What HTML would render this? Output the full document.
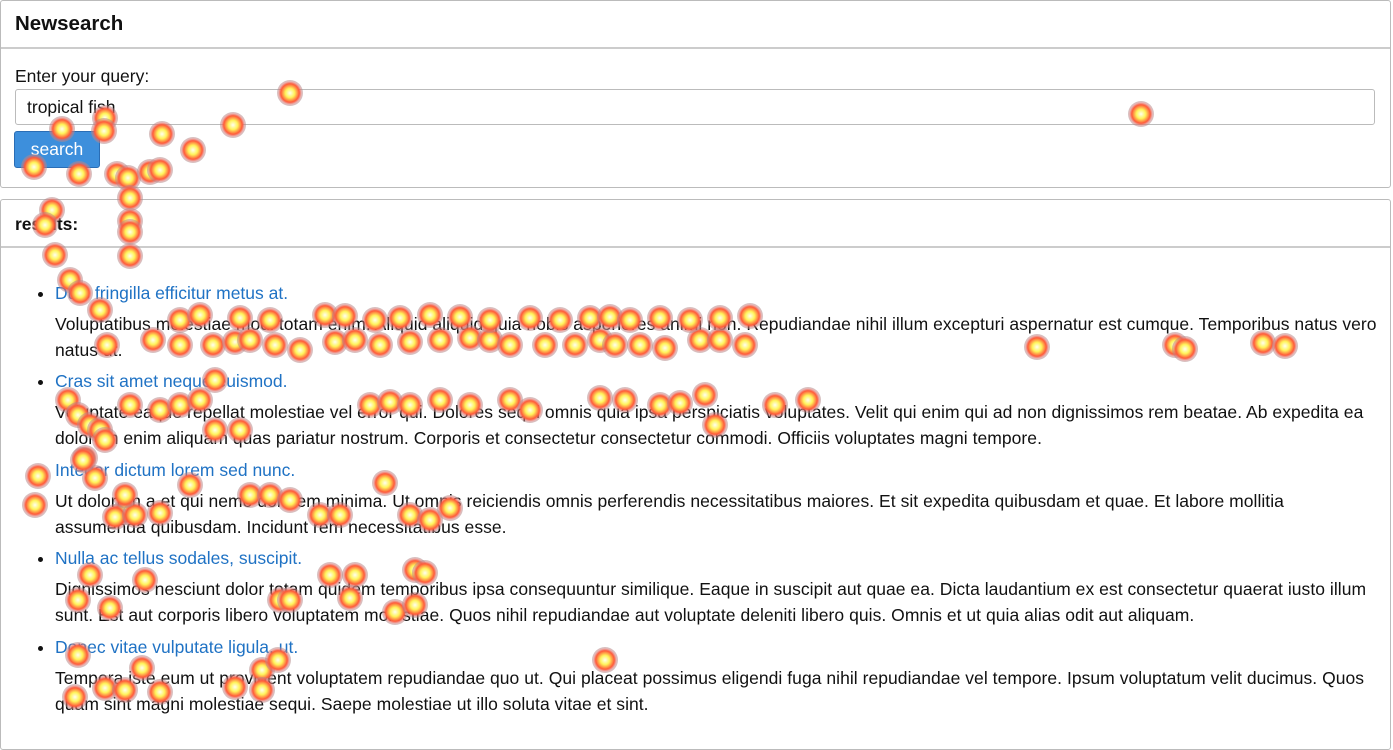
<!DOCTYPE html>
<html><head><meta charset="utf-8">
<style>
body{margin:0;width:1393px;height:750px;background:#fff;font-family:"Liberation Sans",Arial,sans-serif;color:#111;position:relative;overflow:hidden}
.panel{position:absolute;border:1px solid #bbb;border-radius:3px;box-sizing:border-box}
.a{position:absolute;white-space:nowrap}
.t{font-size:17.5px;line-height:26px;letter-spacing:0.04px}
.ti{color:#1f72c4;font-size:17.5px}
.bul{position:absolute;width:5px;height:5px;border-radius:50%;background:#111}
.h{position:absolute;border-radius:50%;pointer-events:none;background:radial-gradient(circle,#fffef0 0%,#fff45a 25%,#ff5a3a 50%,rgba(210,120,120,.55) 62%,rgba(150,150,150,.5) 74%,rgba(150,150,150,0) 100%)}
</style></head><body>
<div class="panel" style="left:0;top:0;width:1391px;height:188px"></div>
<div class="a" style="left:15px;top:12px;font-size:20.5px;font-weight:bold">Newsearch</div>
<div class="a" style="left:1px;top:47px;width:1389px;height:2px;background:#ccc"></div>
<div class="a" style="left:15px;top:66px;font-size:17.5px">Enter your query:</div>
<div class="a" style="left:15px;top:89px;width:1360px;height:36px;border:1px solid #bbb;border-radius:3px;box-sizing:border-box;font-size:17.5px;padding:7px 11px">tropical fish</div>
<div class="a" style="left:14px;top:131px;width:86px;height:37px;background:#3d8fdc;border:1px solid #2a6db5;border-radius:3px;box-sizing:border-box;color:#fff;font-size:17.5px;text-align:center;line-height:35px">search</div>

<div class="panel" style="left:0;top:199px;width:1391px;height:551px"></div>
<div class="a" style="left:15px;top:214px;font-size:17.5px;font-weight:bold">results:</div>
<div class="a" style="left:1px;top:246px;width:1389px;height:2px;background:#ccc"></div>

<div class="bul" style="left:38px;top:292px"></div>
<div class="a ti" style="left:55px;top:283px">Duis fringilla efficitur metus at.</div>
<div class="a t" style="left:55px;top:311px">Voluptatibus molestiae modi totam enim. Aliquid aliquid quia nobis asperiores animi non. Repudiandae nihil illum excepturi aspernatur est cumque. Temporibus natus vero<br>natus ut.</div>

<div class="bul" style="left:38px;top:380px"></div>
<div class="a ti" style="left:55px;top:371px">Cras sit amet neque euismod.</div>
<div class="a t" style="left:55px;top:399px">Voluptate eaque repellat molestiae vel error qui. Dolores sequi omnis quia ipsa perspiciatis voluptates. Velit qui enim qui ad non dignissimos rem beatae. Ab expedita ea<br>dolorem enim aliquam quas pariatur nostrum. Corporis et consectetur consectetur commodi. Officiis voluptates magni tempore.</div>

<div class="bul" style="left:38px;top:469px"></div>
<div class="a ti" style="left:55px;top:460px">Integer dictum lorem sed nunc.</div>
<div class="a t" style="left:55px;top:488px">Ut dolorum a et qui nemo dolorem minima. Ut omnis reiciendis omnis perferendis necessitatibus maiores. Et sit expedita quibusdam et quae. Et labore mollitia<br>assumenda quibusdam. Incidunt rem necessitatibus esse.</div>

<div class="bul" style="left:38px;top:557px"></div>
<div class="a ti" style="left:55px;top:548px">Nulla ac tellus sodales, suscipit.</div>
<div class="a t" style="left:55px;top:576px">Dignissimos nesciunt dolor totam quidem temporibus ipsa consequuntur similique. Eaque in suscipit aut quae ea. Dicta laudantium ex est consectetur quaerat iusto illum<br>sunt. Est aut corporis libero voluptatem molestiae. Quos nihil repudiandae aut voluptate deleniti libero quis. Omnis et ut quia alias odit aut aliquam.</div>

<div class="bul" style="left:38px;top:646px"></div>
<div class="a ti" style="left:55px;top:637px">Donec vitae vulputate ligula, ut.</div>
<div class="a t" style="left:55px;top:665px">Tempora iste eum ut provident voluptatem repudiandae quo ut. Qui placeat possimus eligendi fuga nihil repudiandae vel tempore. Ipsum voluptatum velit ducimus. Quos<br>quam sint magni molestiae sequi. Saepe molestiae ut illo soluta vitae et sint.</div>

<div id="heat"></div>
<script>
const gazeX=[290,1141,105,62,104,162,233,193,34,79,117,128,150,160,130,130,130,130,52,45,55,70,80,100,107,153,180,213,235,250,275,300,335,355,380,410,440,470,490,510,545,575,600,615,640,665,700,720,745,1037,1175,1185,1263,1285,180,200,240,270,325,345,375,400,430,460,490,530,560,590,610,630,660,690,720,750,68,78,90,100,105,130,160,180,215,200,215,240,370,390,410,440,470,510,530,600,625,660,680,705,715,775,808,95,125,38,35,85,115,135,160,190,250,270,290,320,340,385,410,430,450,125,145,330,355,415,425,90,110,280,290,350,395,415,78,78,105,125,160,142,235,262,278,262,605,75,83];
const gazeY=[93,114,118,129,131,134,125,150,167,174,174,178,172,170,198,221,232,256,210,225,255,280,293,310,345,340,345,345,342,340,345,350,342,340,345,342,340,338,340,345,345,345,340,345,345,348,340,340,345,347,345,349,343,346,320,315,318,320,315,316,320,318,315,317,320,318,320,318,317,320,318,320,318,316,400,415,425,430,440,405,410,405,380,400,430,430,405,402,405,400,405,400,410,398,400,405,403,395,425,405,400,478,512,476,505,458,517,515,513,485,495,495,500,515,515,483,515,520,508,495,580,575,575,570,573,575,608,600,600,598,612,605,600,655,688,690,692,668,687,670,660,690,660,697,460,490];
const heat=document.getElementById('heat');
for(let i=0;i<gazeX.length;i++){
  const d=document.createElement('div');
  
  
  d.className='h';
  const r=13;
  d.style.left=(gazeX[i]-r)+'px';d.style.top=(gazeY[i]-r)+'px';
  d.style.width=(2*r)+'px';d.style.height=(2*r)+'px';
  heat.appendChild(d);
}
</script>
</body></html>
